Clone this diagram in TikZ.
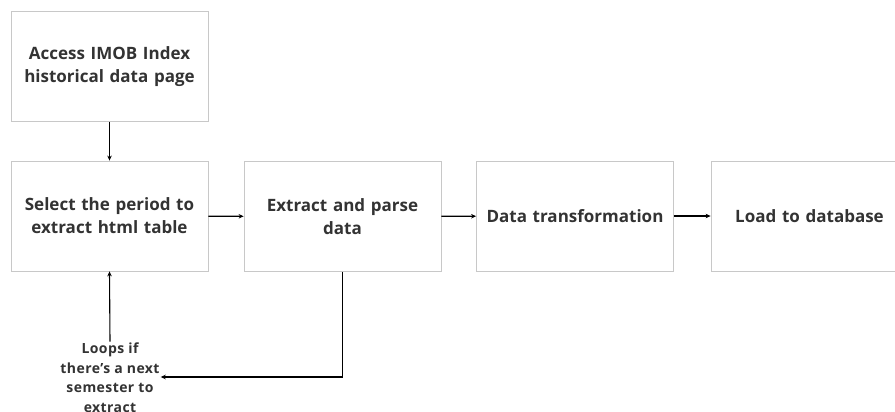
\documentclass[tikz,border=0pt]{standalone}
\usepackage{fontspec}
\setmainfont{Open Sans}[UprightFont=* Bold]
\usetikzlibrary{arrows.meta,positioning}
\definecolor{boxline}{HTML}{C8C8C8}
\definecolor{ink}{HTML}{333333}
\newcommand{\sq}{{\char"0027}}
\tikzset{
  stepbox/.style={draw=boxline, line width=0.8pt, fill=white, minimum width=197pt,
    minimum height=110pt, align=center, text=ink, inner sep=4pt,
    font=\fontsize{17pt}{23pt}\selectfont, text width=189pt},
  flow/.style={line width=1.1pt, -{Stealth[length=5pt,width=4.5pt]}},
  note/.style={align=center, text=ink, inner sep=1pt,
    font=\fontsize{14pt}{19.5pt}\selectfont\addfontfeatures{LetterSpace=3}}
}
\begin{document}
\begin{tikzpicture}[x=1pt,y=-1pt]
  \useasboundingbox[fill=white] (0,0) rectangle (895,412);
  \node[stepbox] (access) at (109.5,66.5) {Access IMOB Index\\historical data page};
  \node[stepbox] (select) at (109.5,216) {Select the period to\\extract html table};
  \node[stepbox] (parse) at (342.5,216.5) {Extract and parse\\data};
  \node[stepbox] (transform) at (575,216) {Data transformation};
  \node[stepbox] (load) at (809.5,216) {Load to database};
  \node[note] (loop) at (110,377.5) {Loops if\\there\sq s a next\\semester to\\extract};
  \coordinate (turn) at (parse.south |- 0,377);
  \draw[flow] (access) -- (select);
  \draw[flow] (select) -- (parse);
  \draw[flow] (parse) -- (transform);
  \draw[flow] (transform) -- (load);
  \draw[flow] (parse.south) -- (turn) -- (loop.east |- turn);
  \draw[flow] (loop.north) -- (select.south);
\end{tikzpicture}
\end{document}
